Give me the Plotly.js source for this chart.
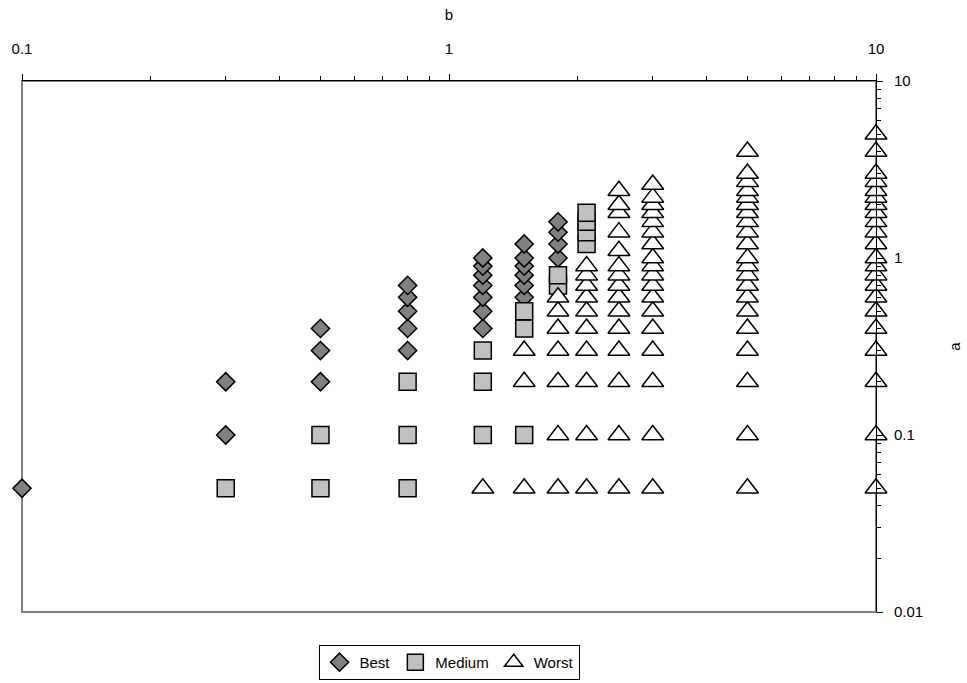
<!DOCTYPE html>
<html><head><meta charset="utf-8">
<script src="https://cdn.plot.ly/plotly-3.0.1.min.js"></script>
<style>html,body{margin:0;padding:0;background:#fff}#chart{width:967px;height:683px}</style>
</head><body><div id="chart"></div>
<script>
// b values (columns) and a values per column for each series
const bestB = [0.1, 0.3, 0.5, 0.8, 1.2, 1.5, 1.8];
const bestA = [
  [0.05],
  [0.1, 0.2],
  [0.2, 0.3, 0.4],
  [0.3, 0.4, 0.5, 0.6, 0.7],
  [0.4, 0.5, 0.6, 0.7, 0.8, 0.9, 1.0],
  [0.6, 0.7, 0.8, 0.9, 1.0, 1.2],
  [1.0, 1.2, 1.4, 1.6]
];
const mediumB = [0.3, 0.5, 0.8, 1.2, 1.5, 1.8, 2.1];
const mediumA = [
  [0.05],
  [0.05, 0.1],
  [0.05, 0.1, 0.2],
  [0.1, 0.2, 0.3],
  [0.1, 0.4, 0.5],
  [0.7, 0.8],
  [1.2, 1.4, 1.6, 1.8]
];
const worstB = [1.2, 1.5, 1.8, 2.1, 2.5, 3, 5, 10];
const worstA = [
  [0.05],
  [0.05, 0.2, 0.3],
  [0.05, 0.1, 0.2, 0.3, 0.4, 0.5, 0.6],
  [0.05, 0.1, 0.2, 0.3, 0.4, 0.5, 0.6, 0.7, 0.8, 0.9],
  [0.05, 0.1, 0.2, 0.3, 0.4, 0.5, 0.6, 0.7, 0.8, 0.9, 1.1, 1.4, 1.8, 2.0, 2.4],
  [0.05, 0.1, 0.2, 0.3, 0.4, 0.5, 0.6, 0.7, 0.8, 0.9, 1.0, 1.2, 1.4, 1.6, 1.8, 2.0, 2.2, 2.6],
  [0.05, 0.1, 0.2, 0.3, 0.4, 0.5, 0.6, 0.7, 0.8, 0.9, 1.0, 1.2, 1.4, 1.6, 1.8, 2.0, 2.2, 2.4, 2.7, 3.0, 4.0],
  [0.05, 0.1, 0.2, 0.3, 0.4, 0.5, 0.6, 0.7, 0.8, 0.9, 1.0, 1.2, 1.4, 1.6, 1.8, 2.0, 2.2, 2.4, 2.7, 3.0, 4.0, 5.0]
];
const xTickVals = [0.1, 1, 10];
const xTickText = ['0.1', '1', '10'];
const yTickVals = [0.01, 0.1, 1, 10];
const yTickText = ['0.01', '0.1', '1', '10'];
const xMinor = [0.2,0.3,0.4,0.5,0.6,0.7,0.8,0.9,2,3,4,5,6,7,8,9];
const yMinor = [0.02,0.03,0.04,0.05,0.06,0.07,0.08,0.09,0.2,0.3,0.4,0.5,0.6,0.7,0.8,0.9,2,3,4,5,6,7,8,9];

function flat(bs, as) {
  const x = [], y = [];
  bs.forEach((b, i) => as[i].forEach(a => { x.push(b); y.push(a); }));
  return {x, y};
}
const best = flat(bestB, bestA);
const medium = flat(mediumB, mediumA);
const worst = flat(worstB, worstA);

const FONT = 'Liberation Sans, Arial, sans-serif';
const data = [
  {type:'scatter', mode:'markers', name:'Best', x:best.x, y:best.y, cliponaxis:false,
   marker:{symbol:'diamond', size:14, color:'#808080', line:{color:'#000', width:1.5}}},
  {type:'scatter', mode:'markers', name:'Medium', x:medium.x, y:medium.y, cliponaxis:false,
   marker:{symbol:'square', size:17, color:'#C0C0C0', line:{color:'#000', width:1.5}}},
  {type:'scatter', mode:'markers', name:'Worst', x:worst.x, y:worst.y, cliponaxis:false,
   marker:{symbol:'triangle-up', size:19, color:'#FFFFFF', line:{color:'#000', width:1.5}}}
];
const tickFont = {family:FONT, size:15, color:'#000'};
const layout = {
  width:967, height:683,
  margin:{l:22, r:91, t:81, b:71, autoexpand:false},
  paper_bgcolor:'#fff', plot_bgcolor:'#fff',
  font:{family:FONT, size:15, color:'#000'},
  showlegend:true,
  legend:{orientation:'h', x:0.5, xanchor:'center', y:-0.095, yanchor:'middle',
    bordercolor:'#000', borderwidth:1, font:{family:FONT, size:15}, itemwidth:30},
  xaxis:{type:'log', side:'top', range:[-1, 1], tickmode:'array', tickvals:xTickVals, ticktext:xTickText,
    ticks:'outside', ticklen:6, tickcolor:'#000', tickfont:tickFont, ticklabelstandoff:14,
    showline:true, linecolor:'#000', linewidth:1, automargin:false,
    showgrid:false, zeroline:false, mirror:false,
    minor:{tickmode:'array', tickvals:xMinor, ticks:'outside', ticklen:4, tickcolor:'#000', showgrid:false},
    title:{text:'b', font:{family:FONT, size:15}, standoff:15}},
  yaxis:{type:'log', side:'right', range:[-2, 1], tickmode:'array', tickvals:yTickVals, ticktext:yTickText,
    ticks:'outside', ticklen:6, tickcolor:'#000', tickfont:tickFont, ticklabelstandoff:8,
    showline:true, linecolor:'#000', linewidth:1, automargin:false,
    showgrid:false, zeroline:false, mirror:false,
    minor:{tickmode:'array', tickvals:yMinor, ticks:'outside', ticklen:4, tickcolor:'#000', showgrid:false},
    title:{text:'a', font:{family:FONT, size:15}, standoff:27}},
  shapes:[{type:'rect', xref:'paper', yref:'paper', x0:0, x1:1, y0:0, y1:1, layer:'below',
    line:{color:'#808080', width:2}}]
};
Plotly.newPlot('chart', data, layout, {displayModeBar:false, staticPlot:true});
</script>
</body></html>
